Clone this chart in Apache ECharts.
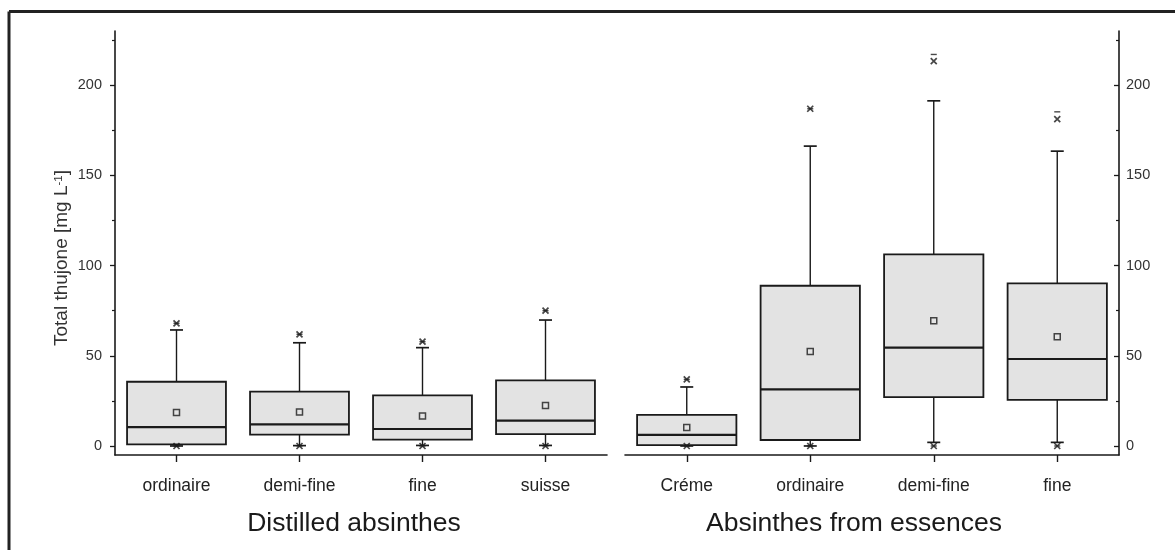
<!DOCTYPE html>
<html>
<head>
<meta charset="utf-8">
<script src="https://cdn.jsdelivr.net/npm/echarts@6/dist/echarts.min.js"></script>
<style>
  html, body { margin: 0; padding: 0; background: #ffffff; }
  #chart { width: 1175px; height: 550px; }
</style>
</head>
<body>
<div id="chart"></div>
<script>
// Total thujone content (mg/L) by absinthe type
const distilledCats = ['ordinaire', 'demi-fine', 'fine', 'suisse'];
const essenceCats = ['Créme', 'ordinaire', 'demi-fine', 'fine'];

// [lower whisker, Q1, median, Q3, upper whisker]
const distilledBoxes = [
  [0.0, 0.9, 10.4, 35.6, 64.3],
  [0.2, 6.3, 12.0, 30.1, 57.2],
  [0.3, 3.5, 9.4, 28.1, 54.5],
  [0.3, 6.6, 14.0, 36.4, 69.8]
];
const distilledMeans = [18.5, 18.8, 16.6, 22.5];
const distilledP1 = [0, 0, 0, 0];
const distilledP99 = [68.0, 61.9, 57.8, 75.0];
const distilledMin = [0, 0, 0, 0];
const distilledMax = [68.0, 61.9, 57.8, 75.0];

const essenceBoxes = [
  [0.0, 0.5, 6.1, 17.2, 32.7],
  [0.0, 3.3, 31.4, 88.8, 166.2],
  [2.0, 27.1, 54.5, 106.2, 191.3],
  [2.0, 25.5, 48.2, 90.1, 163.4]
];
const essenceMeans = [10.2, 52.4, 69.4, 60.6];
const essenceP1 = [0, 0, 0, 0];
const essenceP99 = [36.9, 186.9, 213.3, 181.2];
const essenceMin = [0, 0, 0, 0];
const essenceMax = [36.9, 186.9, 217.0, 185.2];

const yTicks = [0, 50, 100, 150, 200];
const yMinorTicks = [25, 75, 125, 175, 225];
const yRange = [-5, 230];

const FONT = '"Liberation Sans", Arial, Helvetica, sans-serif';
const INK = '#1a1a1a';
const BOX_FILL = '#e3e3e3';

function renderBox(params, api) {
  const x = api.value(0);
  const low = api.coord([x, api.value(1)]);
  const q1 = api.coord([x, api.value(2)]);
  const med = api.coord([x, api.value(3)]);
  const q3 = api.coord([x, api.value(4)]);
  const high = api.coord([x, api.value(5)]);
  const half = api.size([1, 0])[0] * 0.402;
  const cap = 6.5;
  const cx = low[0];
  return {
    type: 'group',
    children: [
      { type: 'line', shape: { x1: cx, y1: q3[1], x2: cx, y2: high[1] }, style: { stroke: INK, lineWidth: 1.4 } },
      { type: 'line', shape: { x1: cx, y1: q1[1], x2: cx, y2: low[1] }, style: { stroke: INK, lineWidth: 1.4 } },
      { type: 'line', shape: { x1: cx - cap, y1: high[1], x2: cx + cap, y2: high[1] }, style: { stroke: INK, lineWidth: 1.7 } },
      { type: 'line', shape: { x1: cx - cap, y1: low[1], x2: cx + cap, y2: low[1] }, style: { stroke: INK, lineWidth: 1.7 } },
      { type: 'rect', shape: { x: cx - half, y: q3[1], width: half * 2, height: q1[1] - q3[1] },
        style: { fill: BOX_FILL, stroke: INK, lineWidth: 1.8 } },
      { type: 'line', shape: { x1: cx - half, y1: med[1], x2: cx + half, y2: med[1] }, style: { stroke: INK, lineWidth: 2.2 } }
    ]
  };
}

function pairs(values) {
  return values.map((v, i) => [i, v]);
}

function groupSeries(boxes, means, p1, p99, mins, maxs, xi, yi) {
  return [
    {
      type: 'custom',
      xAxisIndex: xi, yAxisIndex: yi,
      renderItem: renderBox,
      encode: { x: 0, y: [1, 2, 3, 4, 5] },
      data: boxes.map((b, i) => [i].concat(b)),
      z: 2
    },
    {
      type: 'scatter',
      xAxisIndex: xi, yAxisIndex: yi,
      symbol: 'rect', symbolSize: 6,
      itemStyle: { color: BOX_FILL, borderColor: INK, borderWidth: 1.5 },
      data: pairs(means), z: 4
    },
    {
      type: 'scatter',
      xAxisIndex: xi, yAxisIndex: yi,
      symbol: 'rect', symbolSize: [6, 1.4],
      itemStyle: { color: INK },
      data: pairs(mins).concat(pairs(maxs)), z: 4
    },
    {
      type: 'scatter',
      xAxisIndex: xi, yAxisIndex: yi,
      symbol: 'path://M0 0L10 10M10 0L0 10', symbolSize: 6,
      itemStyle: { color: 'none', borderColor: INK, borderWidth: 1.7 },
      data: pairs(p1).concat(pairs(p99)), z: 5
    }
  ];
}

const axisLineStyle = { color: INK, width: 1.6 };

function catAxis(gridIndex, data) {
  return {
    gridIndex, type: 'category', data,
    boundaryGap: true,
    axisLine: { show: true, onZero: false, lineStyle: axisLineStyle },
    axisTick: { show: true, alignWithLabel: true, length: 7, lineStyle: { color: INK, width: 1.4 } },
    axisLabel: { fontSize: 17.5, color: '#222', margin: 22, fontFamily: FONT },
    splitLine: { show: false }
  };
}

function valAxis(gridIndex, position, major, inside) {
  const base = {
    gridIndex, type: 'value', position,
    min: yRange[0], max: yRange[1],
    splitLine: { show: false }
  };
  if (major) {
    return Object.assign(base, {
      axisLine: { show: true, onZero: false, lineStyle: axisLineStyle },
      axisTick: { show: true, inside, length: 5, customValues: yTicks, lineStyle: { color: INK, width: 1.3 } },
      axisLabel: {
        show: true, customValues: yTicks, fontSize: 14.5, color: '#333', fontFamily: FONT,
        margin: position === 'left' ? 13 : 7
      }
    });
  }
  return Object.assign(base, {
    axisLine: { show: false },
    axisTick: { show: true, inside, length: 3, customValues: yMinorTicks, lineStyle: { color: INK, width: 1.2 } },
    axisLabel: { show: false }
  });
}

const chart = echarts.init(document.getElementById('chart'), null, { renderer: 'canvas' });

chart.setOption({
  backgroundColor: '#ffffff',
  animation: false,
  textStyle: { fontFamily: FONT },
  grid: [
    { left: 115, right: 568, top: 31, bottom: 95 },
    { left: 625, right: 56, top: 31, bottom: 95 }
  ],
  xAxis: [catAxis(0, distilledCats), catAxis(1, essenceCats)],
  yAxis: [
    valAxis(0, 'left', true, false),
    valAxis(0, 'left', false, false),
    valAxis(1, 'right', true, true),
    valAxis(1, 'right', false, true)
  ],
  graphic: [
    { type: 'line', shape: { x1: 9, y1: 11.5, x2: 1175, y2: 11.5 }, style: { stroke: '#222', lineWidth: 3 } },
    { type: 'line', shape: { x1: 9, y1: 11.5, x2: 9, y2: 550 }, style: { stroke: '#222', lineWidth: 3 } },
    {
      type: 'text', x: 62, y: 258, rotation: Math.PI / 2,
      style: {
        text: 'Total thujone [mg L{sup|-1}]',
        fontSize: 19, fill: '#333', fontFamily: FONT,
        align: 'center', verticalAlign: 'middle',
        rich: { sup: { fontSize: 11.5, verticalAlign: 'top', fill: '#333', fontFamily: FONT } }
      }
    },
    {
      type: 'text', x: 354, y: 524,
      style: { text: 'Distilled absinthes', fontSize: 26.5, fill: '#1a1a1a', fontFamily: FONT, align: 'center', verticalAlign: 'middle' }
    },
    {
      type: 'text', x: 854, y: 524,
      style: { text: 'Absinthes from essences', fontSize: 26.5, fill: '#1a1a1a', fontFamily: FONT, align: 'center', verticalAlign: 'middle' }
    }
  ],
  series: [].concat(
    groupSeries(distilledBoxes, distilledMeans, distilledP1, distilledP99, distilledMin, distilledMax, 0, 0),
    groupSeries(essenceBoxes, essenceMeans, essenceP1, essenceP99, essenceMin, essenceMax, 1, 2)
  )
});
</script>
</body>
</html>
